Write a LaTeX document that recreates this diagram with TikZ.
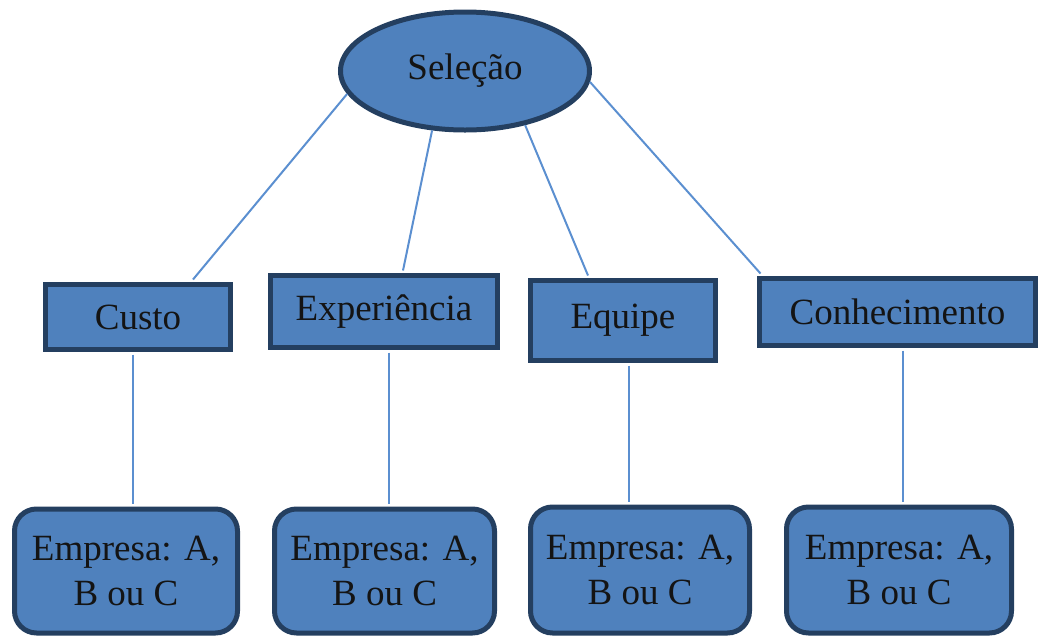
\documentclass[tikz,border=0pt]{standalone}
\usepackage{fontspec}
\setmainfont{Liberation Serif}
\newfontfamily\tnr{Liberation Serif}
\usetikzlibrary{shapes.geometric}
\definecolor{boxfill}{HTML}{4F81BD}
\definecolor{boxline}{HTML}{243F60}
\definecolor{conncol}{HTML}{5B8FD0}
\definecolor{txt}{HTML}{141414}
\begin{document}
\begin{tikzpicture}[x=1pt,y=-1pt,
  base/.style={draw=boxline, fill=boxfill, line width=5pt, inner sep=0pt, text=txt,
    font=\tnr\fontsize{37}{45}\selectfont, align=center},
  topnode/.style={base, ellipse, minimum width=249pt, minimum height=118pt},
  midbox/.style={base, rectangle},
  leafbox/.style={base, rectangle, rounded corners=22pt, minimum width=#1, minimum height=124pt},
  conn/.style={draw=conncol, line width=2pt}]
\useasboundingbox (0,0) rectangle (1042,638);
\node[topnode] (sel) at (465,71) {Sele\c{c}\~ao};
\node[midbox, minimum width=185pt, minimum height=65pt] (custo) at (138,317) {Custo};
\node[midbox, minimum width=227pt, minimum height=72pt] (exp) at (384,311.5) {Experi\^encia};
\node[midbox, minimum width=185pt, minimum height=80pt] (equ) at (623,320.5) {Equipe};
\node[midbox, minimum width=276pt, minimum height=67pt] (con) at (897.5,312) {Conhecimento};
\node[leafbox=223pt] (e1) at (126,571) {Empresa: A,\\B ou C};
\node[leafbox=220pt] (e2) at (384.5,571) {Empresa: A,\\B ou C};
\node[leafbox=219pt, minimum height=126pt] (e3) at (640,570) {Empresa: A,\\B ou C};
\node[leafbox=225pt, minimum height=126pt] (e4) at (899,570) {Empresa: A,\\B ou C};
\draw[conn] (sel.191.7) -- ([xshift=55pt,yshift=2.5pt]custo.north);
\draw[conn] (sel.241.5) -- ([xshift=19pt,yshift=2.5pt]exp.north);
\draw[conn] (sel.318) -- ([xshift=-35pt,yshift=2.5pt]equ.north);
\draw[conn] (sel.355.9) -- ([xshift=-137pt,yshift=2.5pt]con.north);
\draw[conn] ([xshift=-5pt,yshift=-2.5pt]custo.south) -- ([xshift=-5pt,yshift=2.5pt]custo.south |- e1.north);
\draw[conn] ([xshift=5pt,yshift=-2.5pt]exp.south) -- ([xshift=5pt,yshift=2.5pt]exp.south |- e2.north);
\draw[conn] ([xshift=6pt,yshift=-2.5pt]equ.south) -- ([xshift=6pt,yshift=2.5pt]equ.south |- e3.north);
\draw[conn] ([xshift=5.5pt,yshift=-2.5pt]con.south) -- ([xshift=5.5pt,yshift=2.5pt]con.south |- e4.north);
\end{tikzpicture}
\end{document}
